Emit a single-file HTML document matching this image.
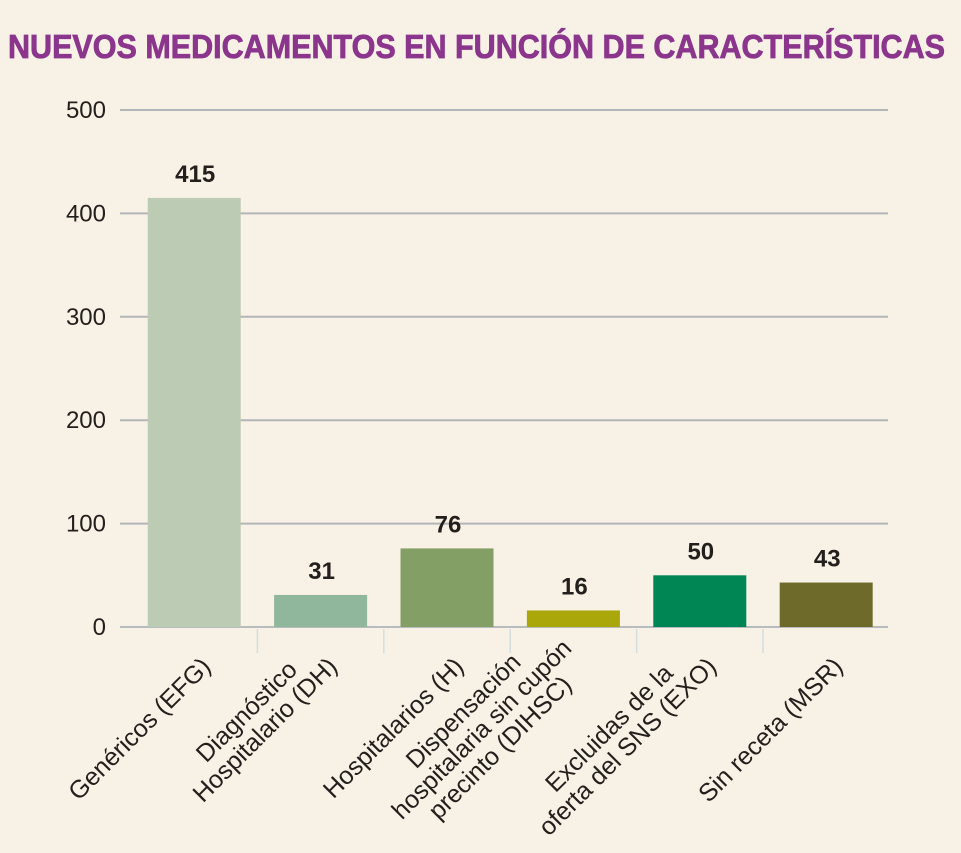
<!DOCTYPE html>
<html><head><meta charset="utf-8"><style>
html,body{margin:0;padding:0;background:#f8f1e6;}
svg{display:block;font-family:"Liberation Sans",sans-serif;}
</style></head><body>
<svg id="chart" width="961" height="853" viewBox="0 0 961 853">
<rect x="0" y="0" width="961" height="853" fill="#f8f1e6"/>
<text x="8" y="58" font-size="33" font-weight="bold" fill="#8b368c" stroke="#8b368c" stroke-width="0.8" textLength="937" lengthAdjust="spacingAndGlyphs">NUEVOS MEDICAMENTOS EN FUNCIÓN DE CARACTERÍSTICAS</text>
<g id="grid"></g><g id="bars"></g><g id="labels"></g>
</svg>
<script>
const categories=[["Genéricos (EFG)"],["Diagnóstico","Hospitalario (DH)"],["Hospitalarios (H)"],["Dispensación","hospitalaria sin cupón","precinto (DIHSC)"],["Excluidas de la","oferta del SNS (EXO)"],["Sin receta (MSR)"]];
const values=[415,31,76,16,50,43];
const valueLabels=["415","31","76","16","50","43"];
const yTicks=[0,100,200,300,400,500];
const colors=["#bccbb3","#90b79c","#839f66","#a9a70a","#008654","#6e6b2a"];
const NS="http://www.w3.org/2000/svg";
const y0=627,y1=110,yMax=500,x0=131,slot=126.4,barW=93;
function y(v){return y0-(v/yMax)*(y0-y1);}
function xc(i){return x0+slot*(i+0.5);}
function mk(t,a,p){const e=document.createElementNS(NS,t);for(const k in a)e.setAttribute(k,a[k]);p.appendChild(e);return e;}
const grid=document.getElementById('grid'),bars=document.getElementById('bars'),labels=document.getElementById('labels');
yTicks.forEach(t=>{
 const l=mk('line',{x1:120,x2:888,y1:y(t),y2:y(t),stroke:t===0?'#b9bcbf':'#b3b6b9','stroke-width':2},grid);
 
 
 const tx=mk('text',{x:106,y:y(t)+8,'text-anchor':'end','font-size':24,fill:'#231f1c'},grid);
 tx.textContent=t;
 
 
});
for(let i=1;i<categories.length;i++){
 const tk=mk('line',{x1:x0+slot*i,x2:x0+slot*i,y1:629,y2:653,stroke:'#d4dde0','stroke-width':1.5},grid);
 
 
}
values.forEach((v,i)=>{
 const r=mk('rect',{x:xc(i)-barW/2,y:y(v),width:barW,height:y0-y(v),fill:colors[i]},bars);
 
 
 const t=mk('text',{x:xc(i)+1,y:y(v)-16,'text-anchor':'middle','font-size':24,'font-weight':'bold',fill:'#231f1c'},labels);
 t.textContent=valueLabels[i];
 
 
 const g=mk('g',{transform:'translate('+(xc(i)+18)+',668) rotate(-45)'},labels);
 
 
 const lines=categories[i],n=lines.length,els=[];
 lines.forEach((s,j)=>{
  const e=mk('text',{x:0,y:-(n-1-j)*26,'text-anchor':'middle','font-size':25,fill:'#231f1c'},g);
  e.textContent=s;els.push(e);
 });
 let mw=0;els.forEach(e=>{mw=Math.max(mw,e.getComputedTextLength());});
 els.forEach(e=>e.setAttribute('x',-mw/2));
});
</script>
</body></html>
